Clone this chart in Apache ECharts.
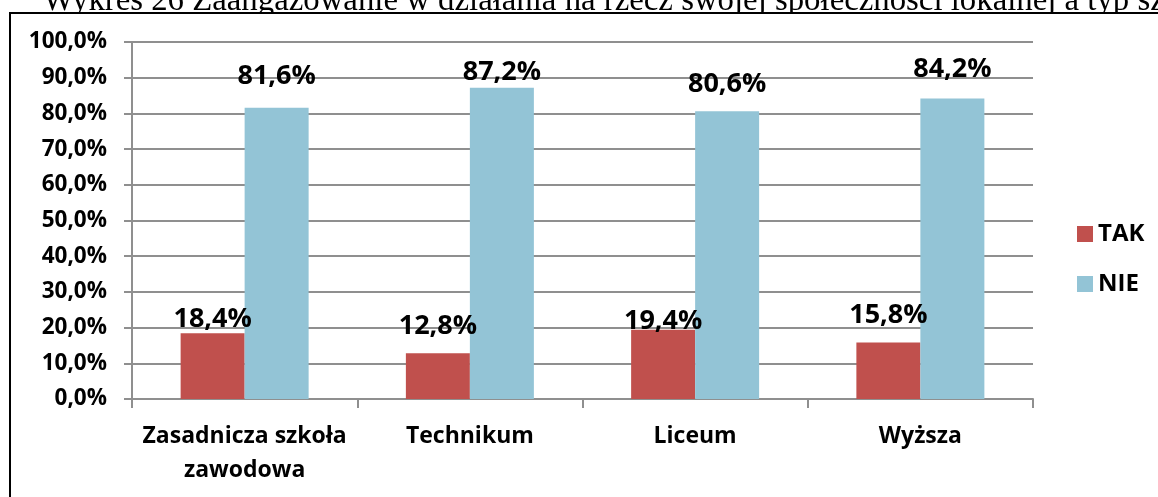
<!DOCTYPE html>
<html>
<head>
<meta charset="utf-8">
<script src="https://cdn.jsdelivr.net/npm/echarts@6/dist/echarts.min.js"></script>
<style>
html,body{margin:0;padding:0;background:#fff;}
#chart{width:1158px;height:497px;}
</style>
</head>
<body>
<div id="chart"></div>
<script>
const titleText = 'Wykres 26 Zaangażowanie w działania na rzecz swojej społeczności lokalnej a typ szkoły';
const categories = ['Zasadnicza szkoła\nzawodowa', 'Technikum', 'Liceum', 'Wyższa'];
const seriesNames = ['TAK', 'NIE'];
const takValues = [18.4, 12.8, 19.4, 15.8];
const nieValues = [81.6, 87.2, 80.6, 84.2];
const yTicks = [0, 10, 20, 30, 40, 50, 60, 70, 80, 90, 100];

const fmt = v => v.toFixed(1).replace('.', ',') + '%';
const FONT = '"Open Sans", sans-serif';

// label lift above each bar (as placed in the original)
const takLift = [0, 13, -5, 14];
const nieLift = [18, 2, 13, 16];

function mkData(vals, lifts) {
  return vals.map((v, i) => ({ value: v, label: { distance: lifts[i] } }));
}

const chart = echarts.init(document.getElementById('chart'));
chart.setOption({
  animation: false,
  backgroundColor: '#fff',
  graphic: {
    elements: [
      { type: 'text', x: 43, y: 1, z: -20, silent: true,
        style: { text: titleText, font: '32.8px "Liberation Serif"', fill: '#000', verticalAlign: 'middle' } },
      { type: 'rect', z: -10, silent: true,
        shape: { x: 10, y: 13, width: 1300, height: 700 },
        style: { fill: '#fff', stroke: '#000', lineWidth: 2 } }
    ]
  },
  grid: { left: 132, right: 125, top: 42, bottom: 98, containLabel: false },
  legend: {
    orient: 'vertical', left: 1077, top: 222, padding: 0,
    itemWidth: 16, itemHeight: 16, itemGap: 26,
    icon: 'rect',
    textStyle: { fontFamily: FONT, fontWeight: 'bold', fontSize: 24, color: '#000', lineHeight: 24, padding: [0,0,0,0] },
    data: seriesNames
  },
  xAxis: {
    type: 'category', data: categories,
    axisLine: { lineStyle: { color: '#8f8f8f', width: 2 } },
    axisTick: { show: true, length: 9, lineStyle: { color: '#8f8f8f', width: 2 } },
    axisLabel: { fontFamily: FONT, fontWeight: 'bold', fontSize: 23, color: '#000', margin: 20, lineHeight: 34, interval: 0 }
  },
  yAxis: {
    type: 'value', min: 0, max: 100, interval: 10,
    axisLine: { show: true, lineStyle: { color: '#8f8f8f', width: 2 } },
    axisTick: { show: true, length: 8, lineStyle: { color: '#8f8f8f', width: 2 } },
    splitLine: { show: true, lineStyle: { color: '#8f8f8f', width: 2 } },
    axisLabel: { fontFamily: FONT, fontWeight: 'bold', fontSize: 22.5, color: '#000', margin: 25,
      formatter: v => yTicks.includes(v) ? fmt(v) : '' }
  },
  series: [
    { name: seriesNames[0], type: 'bar', data: mkData(takValues, takLift), barWidth: 64, barGap: '0%',
      itemStyle: { color: '#C0504D' },
      label: { show: true, position: 'top', fontFamily: FONT, fontWeight: 'bold', fontSize: 27, color: '#000',
        formatter: p => fmt(p.value) } },
    { name: seriesNames[1], type: 'bar', data: mkData(nieValues, nieLift), barWidth: 64, barGap: '0%',
      itemStyle: { color: '#93C4D6' },
      label: { show: true, position: 'top', fontFamily: FONT, fontWeight: 'bold', fontSize: 27, color: '#000',
        formatter: p => fmt(p.value) } }
  ]
});
</script>
</body>
</html>
